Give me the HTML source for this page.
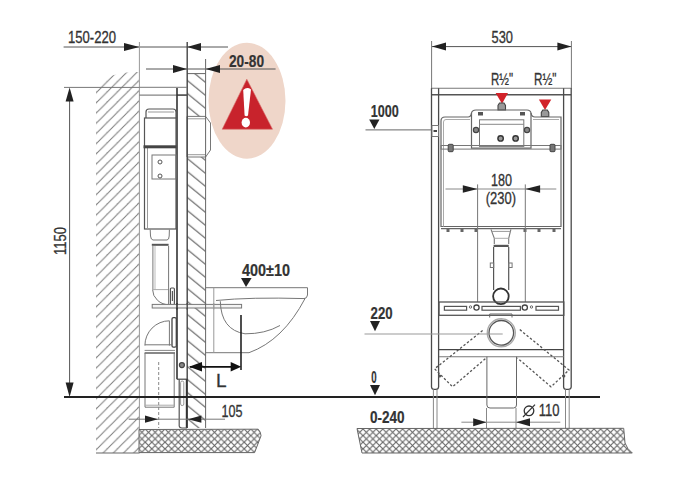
<!DOCTYPE html>
<html><head><meta charset="utf-8">
<style>
html,body{margin:0;padding:0;background:#fff;width:677px;height:500px;overflow:hidden}
svg{display:block}
text{font-family:"Liberation Sans",sans-serif;fill:#333;stroke:#333;stroke-width:0.3}
.b{stroke-width:0.2}
.b{font-weight:bold}
</style></head>
<body>
<svg width="677" height="500" viewBox="0 0 677 500">
<defs>
<pattern id="hl" x="5.3" y="0" width="10.2" height="10.2" patternUnits="userSpaceOnUse">
<path d="M-1,11.2 L11.2,-1 M-6,6 L1,-1 M9,11.2 L16,4" stroke="#7c7c7c" stroke-width="1" fill="none"/>
</pattern>
<pattern id="hr" x="0" y="4.8" width="15.85" height="13" patternUnits="userSpaceOnUse">
<path d="M-1.22,-1 L17.07,14 M-1.22,-14 L17.07,1 M-1.22,12 L17.07,27" stroke="#666" stroke-width="1.15" fill="none"/>
</pattern>
<pattern id="xh" width="6.6" height="6.6" patternUnits="userSpaceOnUse">
<path d="M0,0 L6.6,6.6 M6.6,0 L0,6.6" stroke="#666" stroke-width="1.15" fill="none"/>
</pattern>
</defs>

<!-- ============ LEFT DRAWING ============ -->
<!-- left wall hatch -->
<path d="M96,86 L103,79 L110,76 L120,73.5 L130,72 L139,72 L139,453 L96,453 Z" fill="url(#hl)"/>
<line x1="96" y1="453" x2="139.5" y2="453" stroke="#666" stroke-width="1"/>
<!-- right wall hatch -->
<rect x="187" y="73.6" width="18.6" height="354.4" fill="url(#hr)"/>
<line x1="187" y1="73.6" x2="205.6" y2="73.6" stroke="#666"/>

<!-- tank bracket on wall (white box) -->
<path d="M187,116.4 L205.6,116.4 L210.5,123 L210.5,150 L205.6,157 L187,157 Z" fill="#fff" stroke="#777" stroke-width="1"/>
<line x1="187" y1="118.8" x2="205.6" y2="118.8" stroke="#999"/><line x1="187" y1="154.7" x2="205.6" y2="154.7" stroke="#999"/>

<!-- salmon ellipse -->
<ellipse cx="247" cy="100.7" rx="38.5" ry="58" fill="#efd6c9"/>
<polygon points="246.8,79.2 222.2,129.2 272.5,129.2" fill="#c8232c" stroke="#d86a66" stroke-width="0.6"/>
<path d="M243.2,90 Q247,86.5 251,89.5 L248,115.5 Q246.2,117 244.6,115.5 Z" fill="#fff"/>
<ellipse cx="245.8" cy="122.6" rx="4.2" ry="4.9" fill="#fff"/>

<!-- dimension 150-220 -->
<line x1="63.6" y1="47" x2="228" y2="47" stroke="#555" stroke-width="1"/>
<polygon points="139.4,47 124,43 124,51" fill="#222"/>
<polygon points="187,47 201,43 201,51" fill="#222"/>
<line x1="139.4" y1="42" x2="139.4" y2="430" stroke="#999" stroke-width="1"/>
<line x1="187.2" y1="42" x2="187.2" y2="428" stroke="#444" stroke-width="1.4"/>
<line x1="186.6" y1="379" x2="186.6" y2="428" stroke="#333" stroke-width="1.6"/>
<text x="68" y="43.0" font-size="16" textLength="48" lengthAdjust="spacingAndGlyphs">150-220</text>

<!-- dimension 20-80 -->
<line x1="146" y1="69" x2="275.6" y2="69" stroke="#555" stroke-width="1"/>
<polygon points="187,69 173,65 173,73" fill="#222"/>
<polygon points="205.6,69 220,65 220,73" fill="#222"/>
<line x1="205.6" y1="59" x2="205.6" y2="428" stroke="#666" stroke-width="1"/>
<text class="b" x="229" y="67.0" font-size="16" textLength="35" lengthAdjust="spacingAndGlyphs">20-80</text>

<!-- dimension 1150 -->
<line x1="64" y1="87.4" x2="139.4" y2="87.4" stroke="#777" stroke-width="1"/>
<line x1="69.6" y1="95" x2="69.6" y2="390" stroke="#555" stroke-width="1"/>
<polygon points="69.6,87.5 65.6,101.6 73.6,101.6" fill="#222"/>
<polygon points="69.6,397 65.6,382.4 73.6,382.4" fill="#222"/>
<text x="0"  y="0" font-size="16" textLength="28" lengthAdjust="spacingAndGlyphs" transform="translate(66.4,255) rotate(-90)">1150</text>

<!-- frame top -->
<line x1="139.5" y1="87.3" x2="187" y2="87.3" stroke="#777"/>
<line x1="139.5" y1="95.1" x2="187" y2="95.1" stroke="#666"/>
<line x1="177" y1="95.1" x2="187" y2="95.1" stroke="#444" stroke-width="1.3"/>
<line x1="177" y1="88" x2="177" y2="379.2" stroke="#333" stroke-width="1.6"/>
<!-- narrow leg -->
<line x1="177" y1="379.2" x2="187" y2="379.2" stroke="#444" stroke-width="1.2"/>
<path d="M179.2,379.2 L179.2,426 Q179.5,428 182,428 L187,428" fill="none" stroke="#555" stroke-width="1.2"/>
<rect x="180.6" y="381" width="3.2" height="24.6" rx="1.6" fill="none" stroke="#999" stroke-width="1"/>
<circle cx="181.9" cy="365.1" r="2.5" fill="#888" stroke="#444" stroke-width="1.2"/>

<!-- tank -->
<path d="M146,118 L146,112 Q146,109 149,109 L173,109 Q176,109 176,112 L176,118" fill="none" stroke="#555" stroke-width="1.2"/>
<line x1="148" y1="112" x2="174" y2="112" stroke="#999"/>
<rect x="144.5" y="118" width="31.5" height="111" fill="none" stroke="#555" stroke-width="1.2"/>
<line x1="147.5" y1="146" x2="147.5" y2="229" stroke="#999"/>
<rect x="143.5" y="145.3" width="33" height="3" fill="#444"/>
<rect x="152" y="155" width="24" height="24" fill="none" stroke="#777"/>
<circle cx="160" cy="162" r="2" fill="none" stroke="#555"/>
<circle cx="160" cy="176" r="2" fill="none" stroke="#555"/>
<!-- neck & pipe -->
<path d="M150.2,229.6 L150.5,236 Q151,240 153,240 L167,240 Q169,240 169.2,236 L169.4,229.6" fill="none" stroke="#777"/>
<rect x="151.8" y="243.8" width="16.8" height="2" fill="#555"/>
<line x1="152.9" y1="246" x2="152.9" y2="289.6" stroke="#777"/>
<line x1="155" y1="246" x2="155" y2="289.6" stroke="#bbb"/>
<path d="M152.6,289.6 A16.8,15.2 0 0 0 169.4,304.8" fill="none" stroke="#777"/>
<line x1="152.6" y1="289.6" x2="168.6" y2="289.6" stroke="#aaa"/>
<line x1="168.6" y1="246" x2="168.6" y2="304.8" stroke="#777"/>
<rect x="170.4" y="288" width="4" height="16.6" rx="1" fill="none" stroke="#555" stroke-width="1.2"/>
<line x1="172.4" y1="291" x2="172.4" y2="301" stroke="#555" stroke-width="1.2"/>
<!-- shelf -->

<rect x="152.2" y="304.4" width="89.4" height="3.6" fill="#f4f4f4" stroke="#777"/>
<line x1="177" y1="303" x2="177" y2="309.5" stroke="#333" stroke-width="1.6"/><line x1="187.2" y1="303" x2="187.2" y2="309.5" stroke="#444" stroke-width="1.4"/><line x1="205.6" y1="303" x2="205.6" y2="309.5" stroke="#666"/><line x1="213.8" y1="303" x2="213.8" y2="309.5" stroke="#999"/>
<!-- lower elbow -->
<path d="M144.9,345.6 A24.5,24.8 0 0 1 169.4,320.8 L169.4,345.6" fill="none" stroke="#777"/>
<rect x="172" y="317.6" width="4.3" height="29.6" rx="1.5" fill="none" stroke="#444" stroke-width="1.3"/>
<line x1="144.9" y1="344.8" x2="172" y2="344.8" stroke="#777"/>
<line x1="144.6" y1="350.4" x2="175" y2="350.4" stroke="#888"/>
<line x1="144.6" y1="353" x2="175" y2="353" stroke="#555" stroke-width="1.4"/>
<path d="M145,353 L145,407.2 L174.2,407.2 L174.2,353" fill="none" stroke="#777"/>
<line x1="145" y1="405.2" x2="174.2" y2="405.2" stroke="#aaa"/>
<line x1="158.7" y1="362" x2="158.7" y2="428" stroke="#888" stroke-dasharray="3,2"/>

<!-- toilet -->
<path d="M205.6,287.7 L307.5,287.7 L307.5,295 Q307,298.6 304,298.6" fill="none" stroke="#777"/>
<path d="M216,300.5 Q250,297 305,298.6" fill="none" stroke="#777"/>
<path d="M305,298.6 Q283,340.4 249,352.7 L206,352.7" fill="none" stroke="#777"/>
<line x1="213.8" y1="287.7" x2="213.8" y2="352.7" stroke="#999"/>
<path d="M220.3,301.2 Q221,330 245,333.8 Q265,334 280,325.5" fill="none" stroke="#777"/>
<text class="b" x="242" y="276.2" font-size="16" textLength="48" lengthAdjust="spacingAndGlyphs">400±10</text>
<polygon points="241,278 251.6,278 246,287" fill="#222"/>
<!-- L dimension -->
<line x1="241" y1="315" x2="241" y2="370" stroke="#222" stroke-width="1.6"/>
<line x1="190" y1="366.8" x2="238" y2="366.8" stroke="#111" stroke-width="1.8"/>
<polygon points="189,366.8 202,362.1 202,371.5" fill="#111"/>
<polygon points="241.2,366.8 230.7,362.1 230.7,371.5" fill="#111"/>
<text x="216" y="387" font-size="19">L</text>

<!-- dimension 105 -->
<line x1="128.7" y1="419.2" x2="225" y2="419.2" stroke="#777"/>
<polygon points="158,419.2 145,415.6 145,422.8" fill="#222"/>
<polygon points="188,419.2 201.4,415.6 201.4,422.8" fill="#222"/>
<text x="221.6" y="416.6" font-size="16" textLength="21" lengthAdjust="spacingAndGlyphs">105</text>

<!-- floor slab left -->
<path d="M139,429.5 L258.2,429.2 Q261,432 261,435.8 L254.6,452.6 L139,452.6 Z" fill="url(#xh)" stroke="#666" stroke-width="1"/>

<!-- floor line -->
<line x1="64" y1="397" x2="600" y2="397" stroke="#222" stroke-width="2"/>

<!-- ============ RIGHT DRAWING ============ -->
<!-- 530 -->
<line x1="432" y1="46.6" x2="571.4" y2="46.6" stroke="#555"/>
<polygon points="432,46.6 446,42.6 446,50.6" fill="#222"/>
<polygon points="571.4,46.6 557.4,42.6 557.4,50.6" fill="#222"/>
<line x1="431.6" y1="41" x2="431.6" y2="89" stroke="#777"/>
<line x1="571.4" y1="41" x2="571.4" y2="89" stroke="#777"/>
<text x="491.6" y="43.0" font-size="16" textLength="21.4" lengthAdjust="spacingAndGlyphs">530</text>

<!-- frame -->
<line x1="431.5" y1="88.2" x2="571.2" y2="88.2" stroke="#777" stroke-width="1.1"/>
<line x1="431.5" y1="94.8" x2="571.2" y2="94.8" stroke="#555" stroke-width="1.5"/>
<path d="M431.5,88.2 L431.5,387 Q431.7,389.3 434,389.3 L436,389.3 Q438.4,389.3 438.6,387 L438.6,88.2" fill="none" stroke="#4a4a4a" stroke-width="1.3"/>
<path d="M563.6,88.2 L563.6,387 Q563.8,389.3 566,389.3 L568.5,389.3 Q571,389.3 571.2,387 L571.2,88.2" fill="none" stroke="#4a4a4a" stroke-width="1.3"/>
<path d="M433.4,389.3 L433.4,428.7 M437,389.3 L437,428.7 M565.5,389.3 L565.5,428.7 M569.2,389.3 L569.2,428.7" stroke="#888"/>
<circle cx="439.6" cy="376" r="1.6" fill="#555"/><circle cx="563.8" cy="376" r="1.6" fill="#555"/>
<rect x="432" y="125.5" width="6.5" height="11" fill="#fff" stroke="#777"/>
<rect x="433.5" y="130" width="3.5" height="2" fill="#444"/>

<!-- R1/2 labels -->
<text x="491" y="84.6" font-size="16" textLength="22" lengthAdjust="spacingAndGlyphs">R½"</text>
<text x="534" y="84.6" font-size="16" textLength="22.4" lengthAdjust="spacingAndGlyphs">R½"</text>
<polygon points="495.6,93 508,93 502,103.8" fill="#d2232a"/>
<polygon points="538.9,99.4 551.3,99.4 545,110" fill="#d2232a"/>
<path d="M499.5,103 L504,103 L505.5,105.5 L505.5,110 L498,110 L498,105.5 Z" fill="#999" stroke="#444" stroke-width="1.1"/>
<path d="M542.8,110 L547.3,110 L548.8,112.5 L548.8,116.5 L541.3,116.5 L541.3,112.5 Z" fill="#999" stroke="#444" stroke-width="1.1"/>

<!-- tank -->
<path d="M441,226.5 L441,121 Q441,117 445,117 L468,117 Q471,117 471.5,113 Q472,110 476,110 L527,110 Q530.5,110 531,113 Q531.5,117 535,117 L561,117 L561,226.5 Z" fill="none" stroke="#666" stroke-width="1.2"/>
<path d="M443.5,226.5 L443.5,122 Q443.5,119.5 446,119.5 L470,119.5 M533,119.5 L559,119.5" fill="none" stroke="#aaa"/>
<line x1="441" y1="228.7" x2="561" y2="228.7" stroke="#666" stroke-width="1.2"/>
<!-- module -->
<path d="M471.5,113 L471.5,148.2 L531,148.2 L531,113" fill="none" stroke="#666" stroke-width="1.2"/>
<rect x="479.5" y="119.8" width="44.3" height="26.6" fill="none" stroke="#777"/>
<line x1="479.5" y1="124.3" x2="523.8" y2="124.3" stroke="#888"/>
<rect x="478" y="112" width="5" height="3.5" fill="#555"/>
<rect x="520" y="112" width="5" height="3.5" fill="#555"/>
<circle cx="476" cy="130" r="2.6" fill="#888" stroke="#444" stroke-width="1.2"/>
<circle cx="527" cy="130" r="2.6" fill="#888" stroke="#444" stroke-width="1.2"/>
<circle cx="500.6" cy="138.4" r="2.7" fill="#999" stroke="#333" stroke-width="1.4"/>
<circle cx="515.6" cy="138.4" r="2.7" fill="#999" stroke="#333" stroke-width="1.4"/>
<rect x="441" y="145.5" width="120" height="3.6" fill="none" stroke="#777"/>
<rect x="448.2" y="144.3" width="5" height="7.4" rx="1" fill="#777" stroke="#444"/>
<rect x="550" y="144.3" width="5" height="7.4" rx="1" fill="#777" stroke="#444"/>
<!-- feet -->
<g fill="#666">
<rect x="446.5" y="229" width="3" height="3"/><rect x="460.5" y="229" width="3" height="3"/><rect x="474.5" y="229" width="3" height="3"/>
<rect x="523.5" y="229" width="3" height="3"/><rect x="537.5" y="229" width="3" height="3"/><rect x="552.5" y="229" width="3" height="3"/>
</g>
<!-- 180 / 230 -->
<line x1="445.5" y1="189" x2="556.3" y2="189" stroke="#888"/>
<polygon points="477.6,189 462.8,185.2 462.8,192.8" fill="#222"/>
<polygon points="525.3,189 540.1,185.2 540.1,192.8" fill="#222"/>
<line x1="477.6" y1="184.4" x2="477.6" y2="302" stroke="#777"/>
<line x1="525.3" y1="184.4" x2="525.3" y2="302" stroke="#777"/>
<text x="491" y="186.1" font-size="16" textLength="21" lengthAdjust="spacingAndGlyphs">180</text>
<text x="485.8" y="203.6" font-size="16" textLength="30.2" lengthAdjust="spacingAndGlyphs">(230)</text>
<!-- neck & pipe -->
<path d="M491,229.4 L494.3,238.3 L494.3,244 M510.9,229.4 L508.7,238.3 L508.7,244" fill="none" stroke="#777" stroke-width="1.1"/>
<line x1="491.5" y1="231.4" x2="510.4" y2="231.4" stroke="#999"/>
<line x1="494.3" y1="238.3" x2="508.7" y2="238.3" stroke="#aaa"/>
<rect x="493.6" y="244.8" width="15.1" height="2.2" fill="#555"/>
<line x1="493.6" y1="247" x2="493.6" y2="290" stroke="#555" stroke-width="1.2"/>
<line x1="508.7" y1="247" x2="508.7" y2="290" stroke="#555" stroke-width="1.2"/>
<rect x="490.3" y="263" width="3.4" height="4.5" fill="none" stroke="#777"/>
<rect x="508.7" y="263" width="3.4" height="4.5" fill="none" stroke="#777"/>
<circle cx="500.9" cy="296.3" r="7.8" fill="#fff" stroke="#333" stroke-width="1.8"/>
<!-- rail -->
<rect x="439" y="302" width="124.8" height="13.3" fill="none" stroke="#555" stroke-width="1.3"/>
<rect x="444.4" y="306.4" width="22.2" height="3.8" fill="none" stroke="#555" stroke-width="1.2"/>
<rect x="482" y="306.4" width="38.4" height="3.8" fill="none" stroke="#555" stroke-width="1.2"/>
<rect x="536" y="306.4" width="22.5" height="3.8" fill="none" stroke="#555" stroke-width="1.2"/>
<circle cx="476.5" cy="307.6" r="2.6" fill="none" stroke="#444" stroke-width="1.3"/>
<circle cx="524.8" cy="307.6" r="2.6" fill="none" stroke="#444" stroke-width="1.3"/>
<circle cx="470.5" cy="307" r="1.2" fill="none" stroke="#666"/>
<circle cx="531.5" cy="307" r="1.2" fill="none" stroke="#666"/>
<!-- drain -->
<path d="M489.7,317.5 L489.7,314 L512,314 L512,317.5" fill="none" stroke="#666"/>
<circle cx="501.3" cy="332.8" r="14" fill="none" stroke="#aaa" stroke-width="1.4"/>
<circle cx="501.3" cy="332.8" r="12.3" fill="none" stroke="#555" stroke-width="1.3"/>
<!-- crossbar -->
<line x1="439" y1="349.6" x2="564" y2="349.6" stroke="#444" stroke-width="1.4"/><line x1="439" y1="356.8" x2="564" y2="356.8" stroke="#777" stroke-width="1.1"/>
<!-- dotted supports -->
<path d="M482.6,330.4 L434.6,368.8 L452.6,386.8 L486.2,358" fill="none" stroke="#555" stroke-width="1.3" stroke-dasharray="2.4,2"/>
<path d="M519.8,329.6 L569,370 L551,386.8 L517.4,358" fill="none" stroke="#555" stroke-width="1.3" stroke-dasharray="2.4,2"/>
<!-- pipe under -->
<path d="M486.9,356.7 L486.9,405 Q486.9,408 490,408 L513.5,408 Q516.5,408 516.5,405 L516.5,356.7" fill="none" stroke="#666"/>

<!-- 1000 / 220 / 0 / 0-240 -->
<text class="b" x="370.7" y="117.2" font-size="16" textLength="28" lengthAdjust="spacingAndGlyphs">1000</text>
<polygon points="369.2,119.5 379.5,119.5 374.3,129.1" fill="#222"/>
<line x1="365.5" y1="129.9" x2="432" y2="129.9" stroke="#666"/>
<text class="b" x="370.6" y="319.3" font-size="16" textLength="22" lengthAdjust="spacingAndGlyphs">220</text>
<polygon points="370,321 380,321 375,331.3" fill="#222"/>
<line x1="364.5" y1="334" x2="502.7" y2="334" stroke="#999"/>
<text class="b" x="371.3" y="382.9" font-size="16" textLength="5.4" lengthAdjust="spacingAndGlyphs">0</text>
<polygon points="370,385 380,385 375,395.2" fill="#222"/>
<text class="b" x="370" y="423.0" font-size="16" textLength="34.6" lengthAdjust="spacingAndGlyphs">0-240</text>

<!-- diameter 110 -->
<line x1="461.4" y1="422.2" x2="560.3" y2="422.2" stroke="#888"/>
<polygon points="486.5,422.2 473.2,418.2 473.2,426.2" fill="#222"/>
<polygon points="516,422.2 530,418.2 530,426.2" fill="#222"/>
<line x1="486.5" y1="408" x2="486.5" y2="428" stroke="#888"/>
<line x1="516" y1="408" x2="516" y2="428" stroke="#888"/>
<circle cx="529" cy="410.8" r="4.8" fill="none" stroke="#333" stroke-width="1.3"/><line x1="523" y1="417" x2="535" y2="404.6" stroke="#333" stroke-width="1.2"/>
<text x="538.7" y="416.3" font-size="16" textLength="20.7" lengthAdjust="spacingAndGlyphs">110</text>

<!-- floor slab right -->
<path d="M357,428.5 L623.7,428.3 L625,443 Q627,449 632.3,453 L362,453 Z" fill="url(#xh)" stroke="#666" stroke-width="1"/>

</svg>
</body></html>
